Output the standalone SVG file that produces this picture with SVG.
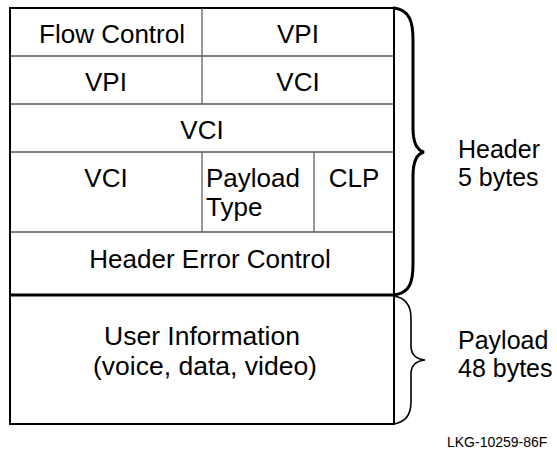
<svg xmlns="http://www.w3.org/2000/svg" width="557" height="458" viewBox="0 0 557 458">
<style>
text{font-family:"Liberation Sans",Arial,sans-serif;font-size:26px;fill:#000}
.c{text-anchor:middle}
.lbl{font-size:25px}
.big{font-size:26.5px}
.thin{stroke:#000;stroke-width:1;fill:none}
.div{stroke:#555;stroke-width:1.2;fill:none}
.brace{fill:none;stroke:#000;stroke-linecap:round}
</style>
<rect x="0" y="0" width="557" height="458" fill="#fff"/>
<g id="frame">
<rect x="10" y="8" width="384" height="416" fill="none" stroke="#000" stroke-width="2"/>
<line x1="10" y1="56" x2="394" y2="56" class="thin"/>
<line x1="10" y1="104" x2="394" y2="104" class="thin"/>
<line x1="10" y1="152" x2="394" y2="152" class="thin"/>
<line x1="10" y1="232" x2="394" y2="232" class="thin"/>
<line x1="10" y1="295" x2="394" y2="295" stroke="#000" stroke-width="3"/>
<line x1="202" y1="8" x2="202" y2="104" class="div"/>
<line x1="202" y1="152" x2="202" y2="232" class="div"/>
<line x1="314" y1="152" x2="314" y2="232" class="div"/>
</g>
<g id="flow-control"><text class="c" x="112" y="43">Flow Control</text></g>
<g id="vpi-1"><text class="c" x="298" y="43">VPI</text></g>
<g id="vpi-2"><text class="c" x="106" y="91">VPI</text></g>
<g id="vci-1"><text class="c" x="298" y="91">VCI</text></g>
<g id="vci-2"><text class="c" x="202" y="139">VCI</text></g>
<g id="vci-3"><text class="c" x="106" y="187">VCI</text></g>
<g id="payload-type"><text x="206" y="186.5">Payload</text><text x="206" y="215.7">Type</text></g>
<g id="clp"><text class="c" x="354" y="187">CLP</text></g>
<g id="hec"><text class="c" x="210" y="268">Header Error Control</text></g>
<g id="user-info"><text class="c big" x="202" y="345">User Information</text><text class="c big" x="205" y="374.8">(voice, data, video)</text></g>
<g id="connectors">
<path class="brace" stroke-width="3" d="M394,8 C410,10 413,22 413,40 L413,128 C413,142 416,150 424,152 C416,154 413,162 413,176 L413,264 C413,282 410,293 394,295"/>
<path class="brace" stroke-width="1.6" d="M394,296 C406,298 411,306 411,318 L411,346 C411,354 415,359 425,360 C415,361 411,366 411,374 L411,402 C411,414 406,422 394,424"/>
</g>
<g id="header-label"><text class="lbl" x="458" y="157.5">Header</text><text class="lbl" x="458" y="185.6">5 bytes</text></g>
<g id="payload-label"><text class="lbl" x="458" y="348.5">Payload</text><text class="lbl" x="458" y="376.6">48 bytes</text></g>
<text x="447" y="447" style="font-size:14px">LKG-10259-86F</text>
</svg>
